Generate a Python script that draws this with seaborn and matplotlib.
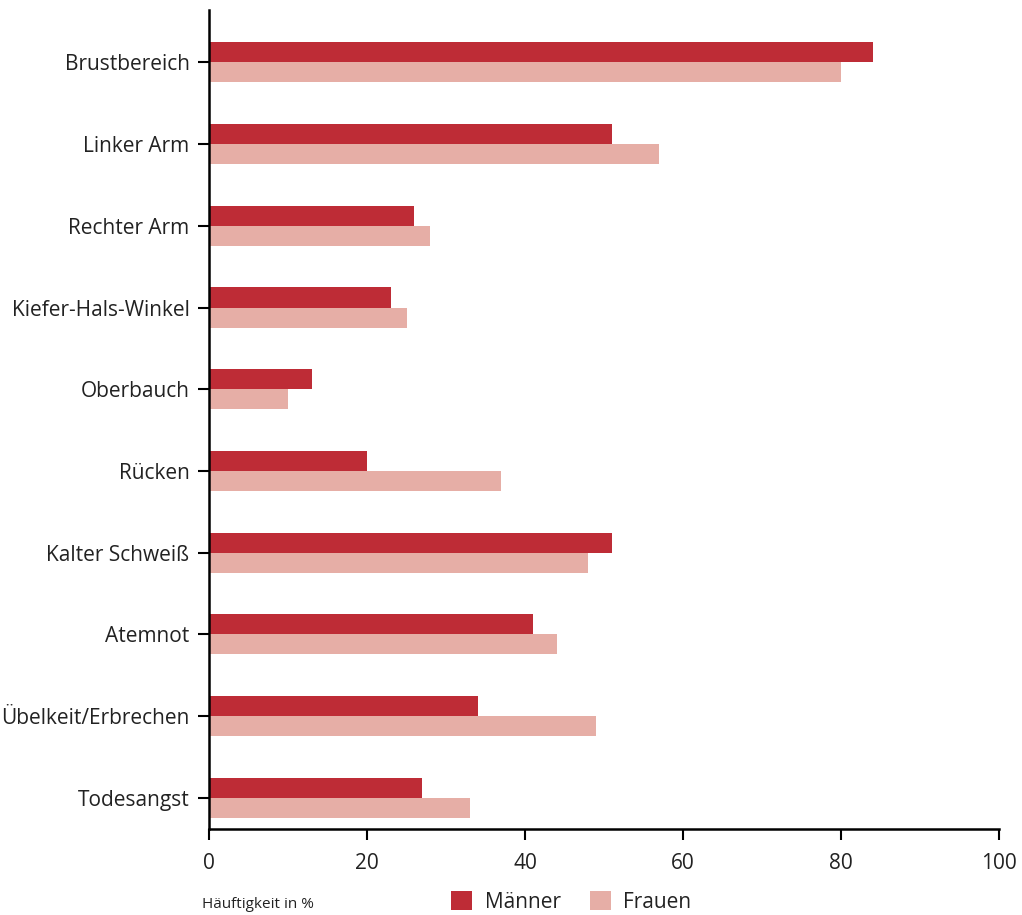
import matplotlib
matplotlib.use("Agg")
import matplotlib.pyplot as plt
import seaborn as sns
import pandas as pd
from matplotlib.patches import Patch

categories = ["Brustbereich", "Linker Arm", "Rechter Arm", "Kiefer-Hals-Winkel", "Oberbauch",
              "Rücken", "Kalter Schweiß", "Atemnot", "Übelkeit/Erbrechen", "Todesangst"]
maenner = [84, 51, 26, 23, 13, 20, 51, 41, 34, 27]
frauen = [80, 57, 28, 25, 10, 37, 48, 44, 49, 33]
series = ["Männer", "Frauen"]
colors = {"Männer": "#BE2C36", "Frauen": "#E6AEA6"}
x_ticks = [0, 20, 40, 60, 80, 100]

df = pd.DataFrame({
    "Kategorie": categories * 2,
    "Wert": maenner + frauen,
    "Geschlecht": [series[0]] * len(categories) + [series[1]] * len(categories),
})

sns.set_style("white")
plt.rcParams["font.family"] = ["Open Sans", "DejaVu Sans"]

fig = plt.figure(figsize=(10.22, 9.15), dpi=100)
ax = fig.add_axes([209 / 1022, 1 - 829 / 915, (999 - 209) / 1022, (829 - 10) / 915])

sns.barplot(data=df, y="Kategorie", x="Wert", hue="Geschlecht", order=categories,
            hue_order=series, palette=colors, orient="h", width=0.49, dodge=True,
            saturation=1, linewidth=0, ax=ax, legend=False)

ax.set_xlim(0, 100)
ax.set_ylim(9.38, -0.64)
ax.set_xticks(x_ticks)
ax.set_xticklabels([str(t) for t in x_ticks], fontsize=15, color="#222222")
ax.tick_params(axis="y", labelsize=15, labelcolor="#222222")
ax.set_xlabel("")
ax.set_ylabel("")
for s in ["top", "right"]:
    ax.spines[s].set_visible(False)
for s in ["left", "bottom"]:
    ax.spines[s].set_color("black")
    ax.spines[s].set_linewidth(1.8)
ax.tick_params(axis="both", which="major", direction="out", length=8, width=1.5,
               color="black", left=True, bottom=True)
ax.tick_params(axis="x", pad=9)
ax.tick_params(axis="y", pad=6)

fig.text(202 / 1022, 1 - 905 / 915, "Häuftigkeit in %", fontsize=11, color="#222222",
         ha="left", va="center")
handles = [Patch(facecolor=colors[s], edgecolor="none", label=s) for s in series]
fig.legend(handles=handles, loc="center left", bbox_to_anchor=(443 / 1022, 1 - 902 / 915),
           ncol=2, frameon=False, fontsize=15, handlelength=1.0, handleheight=1.0,
           handletextpad=0.6, columnspacing=1.4, borderaxespad=0, labelcolor="#222222")

fig.savefig("out.png", dpi=100)
